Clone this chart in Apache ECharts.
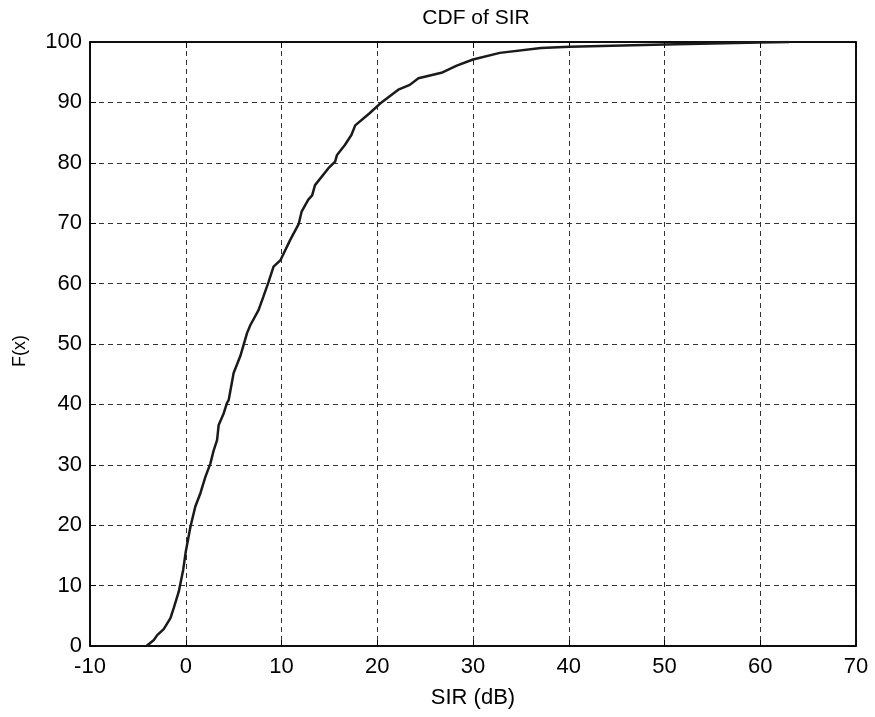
<!DOCTYPE html>
<html><head><meta charset="utf-8">
<script src="https://cdn.jsdelivr.net/npm/echarts@6/dist/echarts.min.js"></script>
<style>html,body{margin:0;padding:0;background:#fff}#c{width:875px;height:717px}</style>
</head><body><div id="c"></div>
<script>
var sirDb = [-4.1,-3.33,-2.98,-2.3,-1.6,-1.25,-0.73,-0.27,0,0.49,1.0,1.53,2.05,2.57,2.92,3.27,3.44,3.96,4.3,4.48,5.0,5.7,6.4,6.74,7.6,8.1,8.65,9.17,9.9,10.9,11.8,12.1,12.8,13.2,13.5,14.9,15.6,15.8,16.6,17.3,17.7,19.2,20.3,22.2,23.4,24.3,26.7,28.3,30.0,32.8,37.1,40.1,50,59.9,63];
var cdf = [0,1.0,1.8,2.8,4.6,6.3,9.0,12.6,15.6,19.75,23.1,25.3,28.0,30.2,32.4,34.1,36.6,38.5,40.2,40.7,45.2,48.0,51.8,53.1,55.6,57.8,60.3,62.8,63.9,67.2,69.9,71.9,73.9,74.6,76.3,79.1,80.2,81.3,82.9,84.6,86.2,88.2,89.8,92.1,92.9,94.0,94.9,96.1,97.1,98.2,99.0,99.2,99.6,99.9,100];
var xTicks = [-10,0,10,20,30,40,50,60,70];
var yTicks = [0,10,20,30,40,50,60,70,80,90,100];

var pts = sirDb.map(function(x,i){return [x,cdf[i]];});
var chart = echarts.init(document.getElementById('c'));
var font = 'Liberation Sans, Arial, sans-serif';
var dashed = {show:true, lineStyle:{color:'#333', type:[5,4], width:1}};
var tick = {show:true, inside:true, length:6, lineStyle:{color:'#000'}};
var line = {show:true, onZero:false, lineStyle:{color:'#000', width:1.5}};
chart.setOption({
  animation:false,
  title:{text:'CDF of SIR', left:471, textAlign:'center', top:3, textStyle:{fontFamily:font, fontSize:21, fontWeight:'normal', color:'#000'}},
  grid:{left:90, right:19, top:42, bottom:71, show:true, borderColor:'#000', borderWidth:1.5},
  xAxis:[{type:'value', min:-10, max:70, interval:10, name:'SIR (dB)', nameLocation:'middle', nameGap:41,
    nameTextStyle:{fontFamily:font, fontSize:22, color:'#000'},
    axisLine:line, axisTick:tick,
    axisLabel:{fontFamily:font, fontSize:22, color:'#000', margin:10},
    splitLine:dashed},
    {type:'value', position:'top', min:-10, max:70, interval:10,
    axisLine:line, axisTick:tick, axisLabel:{show:false}, splitLine:{show:false}}],
  yAxis:[{type:'value', min:0, max:100, interval:10, name:'F(x)', nameLocation:'middle', nameGap:61,
    nameTextStyle:{fontFamily:font, fontSize:18, color:'#000', padding:[0,14,0,0]},
    axisLine:line, axisTick:tick,
    axisLabel:{fontFamily:font, fontSize:22, color:'#000', margin:8},
    splitLine:dashed},
    {type:'value', position:'right', min:0, max:100, interval:10,
    axisLine:line, axisTick:tick, axisLabel:{show:false}, splitLine:{show:false}}],
  series:[{type:'line', data:pts, showSymbol:false, symbol:'none',
    lineStyle:{color:'#1a1a1a', width:2.5}}]
});
</script></body></html>
